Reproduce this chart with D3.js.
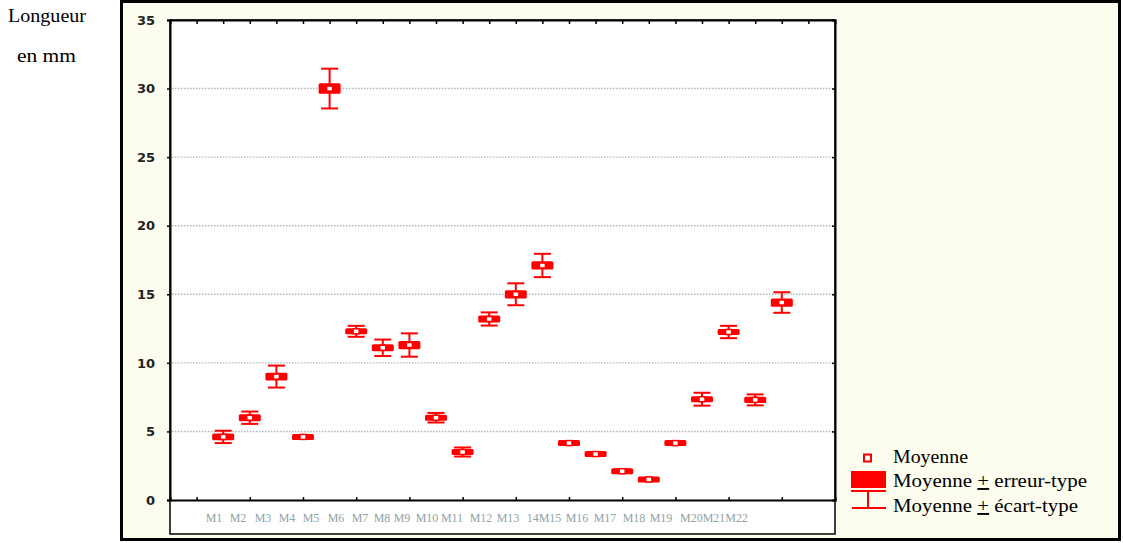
<!DOCTYPE html>
<html><head><meta charset="utf-8">
<script src="https://cdn.jsdelivr.net/npm/d3@7/dist/d3.min.js"></script>
<style>body{margin:0;background:#fff}svg{display:block}</style>
</head><body>
<svg id="c" width="1123" height="543"></svg>
<script>
// ---- data ----
const categories = ["M1","M2","M3","M4","M5","M6","M7","M8","M9","M10","M11","M12","M13","14M15","M16","M17","M18","M19","M20M21M22"];
const means = [4.6, 6.0, 9.0, 4.6, 30.0, 12.3, 11.1, 11.3, 6.0, 3.5, 13.2, 15.0, 17.1, 4.15, 3.35, 2.1, 1.5, 4.15, 7.35, 12.25, 7.3, 14.4];
const sd    = [0.45, 0.45, 0.8, 0.12, 1.45, 0.4, 0.6, 0.85, 0.35, 0.33, 0.48, 0.8, 0.85, 0.12, 0.12, 0.12, 0.1, 0.12, 0.47, 0.45, 0.4, 0.75];
const se    = [0.25, 0.25, 0.28, 0.15, 0.38, 0.22, 0.25, 0.3, 0.2, 0.2, 0.25, 0.3, 0.3, 0.15, 0.15, 0.15, 0.12, 0.15, 0.22, 0.22, 0.22, 0.3];
const yTicks = [0,5,10,15,20,25,30,35];
const legendLabels = ["Moyenne", "Moyenne ± erreur-type", "Moyenne ± écart-type"];

// ---- layout ----
const labelX = [214,238,263,287,311,336,360,382,402,427,452,481,508,544,577,605,634,661,714];
const legendW = [75, 194, 185];
const RED = "#ff0000", CREAM = "#fcfcef";
const svg = d3.select("#c");

// outer frame
svg.append("rect").attr("x",121.5).attr("y",1.5).attr("width",998).attr("height",538)
  .attr("fill",CREAM).attr("stroke","#000").attr("stroke-width",3);

const L=170, R=835, T=20, B=500, B2=534;
svg.append("rect").attr("x",L).attr("y",T).attr("width",R-L).attr("height",B2-T)
  .attr("fill","#fff").attr("stroke","#000").attr("stroke-width",1.5);

const x = d3.scaleLinear().domain([0,25]).range([L,R]);
const y = d3.scaleLinear().domain([0,35]).range([B,T]);

// grid
svg.append("g").selectAll("line").data(yTicks.filter(v=>v>0&&v<35)).join("line")
  .attr("x1",L+2).attr("x2",R-2).attr("y1",d=>y(d)).attr("y2",d=>y(d))
  .attr("stroke","#a9b9b9").attr("stroke-width",1.4).attr("stroke-dasharray","1.5,1.5");

// axes
const gl = svg.append("g").attr("transform",`translate(${L},0)`)
  .call(d3.axisLeft(y).tickValues(yTicks).tickSize(3).tickPadding(12).tickFormat(d3.format("d")));
gl.select(".domain").attr("stroke","#000").attr("stroke-width",2);
gl.selectAll("text").attr("font-family","DejaVu Sans").attr("font-size",13).attr("fill","#222").attr("font-weight","bold");
gl.selectAll(".tick line").attr("stroke-width",1.5);

const gr = svg.append("g").attr("transform",`translate(${R},0)`)
  .call(d3.axisLeft(y).tickValues(yTicks.filter(v=>v>0)).tickSize(3).tickFormat(""));
gr.select(".domain").attr("stroke","#000").attr("stroke-width",2);
gr.selectAll(".tick line").attr("stroke-width",1.5);

const gt = svg.append("g").attr("transform",`translate(0,${T})`)
  .call(d3.axisBottom(x).tickValues(d3.range(1,25)).tickSize(4).tickFormat(""));
gt.select(".domain").attr("stroke","#000").attr("stroke-width",2);
gt.selectAll(".tick line").attr("stroke-width",1.5);

const gb = svg.append("g").attr("transform",`translate(0,${B})`)
  .call(d3.axisTop(x).tickValues(d3.range(1,25,2)).tickSize(3).tickFormat(""));
gb.select(".domain").attr("stroke","#000").attr("stroke-width",2.2);
gb.selectAll(".tick line").attr("stroke-width",1.5);

// x labels
svg.append("g").selectAll("text").data(categories).join("text")
  .attr("x",(d,i)=>labelX[i]).attr("y",522).attr("text-anchor","middle")
  .attr("font-family","Liberation Serif").attr("font-size",12).attr("fill","#8fa3a3")
  .text(d=>d);

// marks
const pts = means.map((m,i)=>({m, sd:sd[i], se:se[i], p:i+2}));
const g = svg.append("g");
pts.forEach(d=>{
  const cx = x(d.p);
  const gg = g.append("g").attr("stroke",RED).attr("stroke-width",2);
  gg.append("line").attr("x1",cx).attr("x2",cx).attr("y1",y(d.m+d.sd)).attr("y2",y(d.m-d.sd));
  gg.append("line").attr("x1",cx-8.5).attr("x2",cx+8.5).attr("y1",y(d.m+d.sd)).attr("y2",y(d.m+d.sd));
  gg.append("line").attr("x1",cx-8.5).attr("x2",cx+8.5).attr("y1",y(d.m-d.sd)).attr("y2",y(d.m-d.sd));
  const h = Math.max(y(d.m-d.se)-y(d.m+d.se), 6);
  g.append("rect").attr("x",cx-11).attr("y",y(d.m)-h/2).attr("width",22).attr("height",h)
    .attr("fill",RED).attr("rx",1.5);
  g.append("rect").attr("x",cx-3).attr("y",y(d.m)-2.5).attr("width",6).attr("height",5)
    .attr("fill","#fff").attr("stroke",RED).attr("stroke-width",1.5);
});

// y title
svg.append("text").attr("x",8).attr("y",22).attr("font-family","Liberation Serif").attr("font-size",19)
  .attr("textLength",78).attr("lengthAdjust","spacingAndGlyphs").attr("fill","#000").text("Longueur");
svg.append("text").attr("x",17).attr("y",62).attr("font-family","Liberation Serif").attr("font-size",19)
  .attr("textLength",59).attr("lengthAdjust","spacingAndGlyphs").attr("fill","#000").text("en mm");

// legend
const lg = svg.append("g");
lg.append("rect").attr("x",864).attr("y",454.5).attr("width",7).attr("height",7).attr("fill","#fff").attr("stroke",RED).attr("stroke-width",2);
lg.append("rect").attr("x",851).attr("y",471).attr("width",35).attr("height",17).attr("fill",RED);
lg.append("line").attr("x1",851).attr("x2",886).attr("y1",491).attr("y2",491).attr("stroke",RED).attr("stroke-width",2);
lg.append("line").attr("x1",868).attr("x2",868).attr("y1",491).attr("y2",508).attr("stroke",RED).attr("stroke-width",2);
lg.append("line").attr("x1",852).attr("x2",886).attr("y1",508).attr("y2",508).attr("stroke",RED).attr("stroke-width",2);
const ly = [463, 487, 512];
legendLabels.forEach((t,i)=>{
  const tx = lg.append("text").attr("x",893).attr("y",ly[i]).attr("font-family","Liberation Serif").attr("font-size",19)
    .attr("textLength",legendW[i]).attr("lengthAdjust","spacingAndGlyphs").attr("fill","#000");
  if (t.includes("±")) {
    const parts = t.split("±");
    tx.append("tspan").text(parts[0]);
    tx.append("tspan").attr("text-decoration","underline").text("+");
    tx.append("tspan").text(parts[1]);
  } else tx.text(t);
});
</script>
</body></html>
